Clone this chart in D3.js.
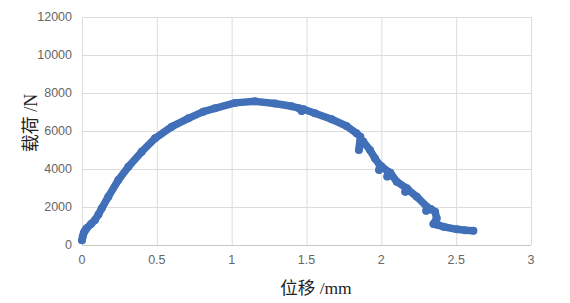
<!DOCTYPE html>
<html>
<head>
<meta charset="utf-8">
<script src="https://cdn.jsdelivr.net/npm/d3@7"></script>
<style>
  body { margin: 0; background: #fff; }
  svg { display: block; }
</style>
</head>
<body>
<script>
// displacement (mm) and load (N) in drawing order
const disp = [0, 0.005, 0.012, 0.022, 0.031, 0.06, 0.087, 0.11, 0.132, 0.176, 0.243, 0.31, 0.399, 0.488,
  0.6, 0.711, 0.81, 0.888, 1.022, 1.156, 1.289, 1.401, 1.45, 1.468, 1.48, 1.556, 1.668, 1.767, 1.834,
  1.86, 1.85, 1.865, 1.879, 1.924, 1.957, 1.99, 1.985, 2.0, 2.046, 2.04, 2.06, 2.103, 2.17, 2.16, 2.18,
  2.237, 2.304, 2.3, 2.33, 2.359, 2.37, 2.348, 2.38, 2.415, 2.504, 2.56, 2.615];
const load = [250, 450, 650, 780, 880, 1100, 1316, 1600, 1930, 2545, 3421, 4122, 4911, 5614,
  6228, 6667, 7017, 7192, 7480, 7560, 7450, 7300, 7200, 7050, 7150, 6930, 6620, 6263, 5879,
  5700, 5000, 5500, 5450, 5000, 4561, 4200, 3947, 4150, 3858, 3600, 3800, 3331, 2982, 2800, 2900,
  2542, 2016, 1800, 1900, 1753, 1405, 1105, 1050, 963, 826, 780, 753];
const xTicks = [0, 0.5, 1, 1.5, 2, 2.5, 3];
const yTicks = [0, 2000, 4000, 6000, 8000, 10000, 12000];

const W = 570, H = 303;
const plotL = 82, plotR = 531, plotT = 17, plotB = 245;
const blue = "#416fb8";

const svg = d3.select("body").append("svg").attr("width", W).attr("height", H);

const x = d3.scaleLinear().domain([0, 3]).range([plotL, plotR]);
const y = d3.scaleLinear().domain([0, 12000]).range([plotB, plotT]);

// grid
svg.append("g").selectAll("line").data(yTicks).join("line")
  .attr("x1", plotL).attr("x2", plotR)
  .attr("y1", d => y(d) + 0.5).attr("y2", d => y(d) + 0.5)
  .attr("stroke", d => d === 0 ? "#c8c8c8" : "#dcdcdc");
svg.append("g").selectAll("line").data(xTicks).join("line")
  .attr("y1", plotT).attr("y2", plotB)
  .attr("x1", d => x(d) + 0.5).attr("x2", d => x(d) + 0.5)
  .attr("stroke", "#dcdcdc");

// tick labels
svg.append("g").selectAll("text").data(yTicks).join("text")
  .attr("x", plotL - 10).attr("y", d => y(d)).attr("dy", "0.35em")
  .attr("text-anchor", "end")
  .style("font", "12.5px 'Liberation Sans', Arial, sans-serif").style("fill", "#666")
  .text(d => d);
svg.append("g").selectAll("text").data(xTicks).join("text")
  .attr("x", d => x(d)).attr("y", plotB + 15).attr("dy", "0.35em")
  .attr("text-anchor", "middle")
  .style("font", "12.5px 'Liberation Sans', Arial, sans-serif").style("fill", "#666")
  .text(d => d);

// axis titles
svg.append("text")
  .attr("transform", "translate(31,123) rotate(-90)")
  .attr("text-anchor", "middle").attr("dy", "0.35em")
  .style("font", "18px 'Liberation Serif', 'Noto Sans CJK SC', serif").style("fill", "#222")
  .text("载荷 /N");
svg.append("text")
  .attr("x", 316).attr("y", 288).attr("text-anchor", "middle").attr("dy", "0.35em")
  .style("font", "17.5px 'Liberation Serif', 'Noto Sans CJK SC', serif").style("fill", "#222")
  .text("位移 /mm");

// data
const pts = disp.map((d, i) => [d, load[i]]);
svg.append("path")
  .datum(pts)
  .attr("d", d3.line().x(d => x(d[0])).y(d => y(d[1])))
  .attr("fill", "none").attr("stroke", blue)
  .attr("stroke-width", 7.5).attr("stroke-linecap", "round").attr("stroke-linejoin", "round");
svg.append("g").selectAll("circle").data(pts).join("circle")
  .attr("cx", d => x(d[0])).attr("cy", d => y(d[1])).attr("r", 4)
  .attr("fill", blue);
</script>
</body>
</html>
